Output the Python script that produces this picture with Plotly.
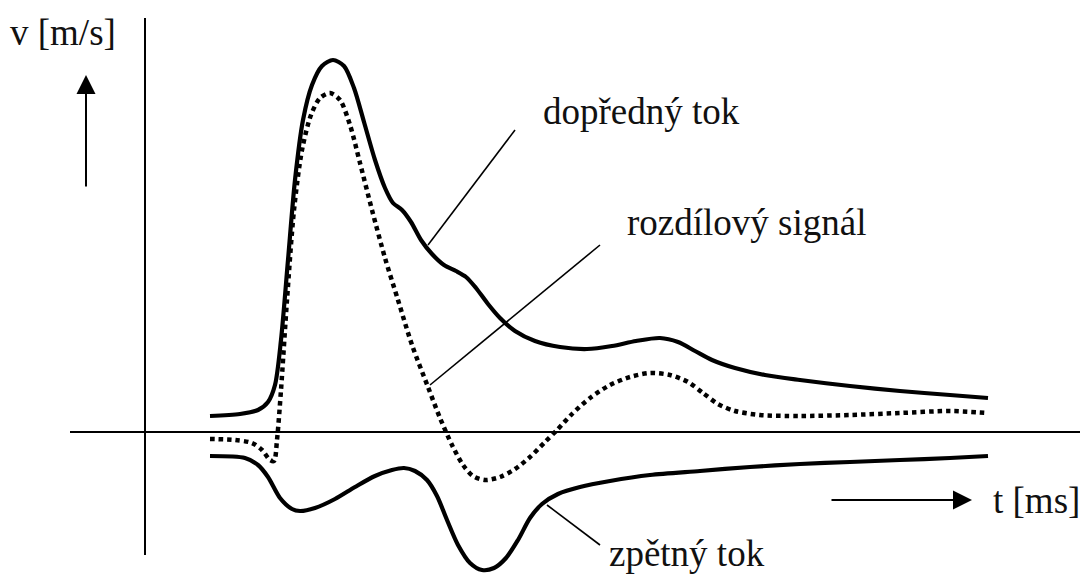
import plotly.graph_objects as go

# Forward flow (solid, upper curve)
t_forward = [65, 95, 113, 123, 130, 136, 143, 150, 158, 167, 177, 188, 199, 209, 219, 230,
             240, 248, 257, 266, 276, 287, 299, 311, 321, 331, 343, 355, 370, 390, 415, 442,
             467, 491, 515, 533, 550, 567, 590, 620, 655, 705, 755, 805, 843]
v_forward = [16, 18, 22, 30, 47, 92, 172, 252, 312, 347, 366, 372, 366, 344, 310, 272,
             244, 229, 222, 210, 192, 178, 167, 161, 155, 144, 128, 114, 101, 91, 85, 83,
             86, 91, 94, 90, 81, 72, 64, 57, 52, 46, 41, 37, 34]

# Difference signal (dotted)
t_diff = [65, 90, 107, 117, 125, 129, 132, 136, 142, 149, 157, 166, 175, 185, 195, 205,
          215, 227, 240, 253, 267, 283, 295, 307, 318, 328, 340, 355, 370, 385, 400, 412,
          427, 445, 465, 485, 505, 525, 543, 558, 573, 590, 615, 655, 705, 755, 805, 843]
v_diff = [-7, -8, -11, -18, -28, -29, -8, 42, 132, 222, 282, 317, 334, 339, 332, 307,
          269, 222, 174, 132, 87, 45, 14, -13, -33, -44, -48, -45, -37, -25, -10, 2,
          18, 34, 47, 55, 59, 57, 50, 39, 28, 21, 17, 16, 17, 19, 21, 19]

# Reverse flow (solid, lower curve)
t_reverse = [65, 100, 113, 123, 135, 147, 155, 170, 190, 210, 230, 247, 259, 270, 282, 292,
             302, 313, 325, 337, 349, 361, 373, 385, 397, 413, 435, 465, 505, 555, 605, 655,
             705, 755, 805, 843]
v_reverse = [-24, -26, -33, -45, -66, -77, -79, -76, -67, -55, -44, -38, -36, -39, -48, -64,
             -88, -113, -131, -138, -136, -126, -108, -86, -72, -62, -55, -49, -43, -39, -35, -32,
             -30, -28, -26, -24]

label_forward = "dopředný tok"
label_diff = "rozdílový signál"
label_reverse = "zpětný tok"
label_v = "v [m/s]"
label_t = "t [ms]"

FONT = dict(family="Liberation Serif", size=37, color="#111111")
INK = "#000000"

fig = go.Figure()

fig.add_trace(go.Scatter(x=t_forward, y=v_forward, mode="lines",
                         line=dict(color=INK, width=4.2, shape="spline", smoothing=0.8),
                         hoverinfo="skip", showlegend=False))
fig.add_trace(go.Scatter(x=t_diff, y=v_diff, mode="lines",
                         line=dict(color=INK, width=4.5, dash="4.5px,4px", shape="spline", smoothing=0.8),
                         hoverinfo="skip", showlegend=False))
fig.add_trace(go.Scatter(x=t_reverse, y=v_reverse, mode="lines",
                         line=dict(color=INK, width=4.2, shape="spline", smoothing=0.8),
                         hoverinfo="skip", showlegend=False))

# Coordinate axes drawn as plain lines
fig.add_shape(type="line", x0=0, x1=0, y0=414, y1=-123, xref="x", yref="y",
              line=dict(color=INK, width=2))
fig.add_shape(type="line", x0=-75, x1=935, y0=0, y1=0, xref="x", yref="y",
              line=dict(color=INK, width=2))

# Leader lines from the labels to the curves
fig.add_shape(type="line", x0=283, y0=187, x1=370, y1=302, xref="x", yref="y",
              line=dict(color=INK, width=1.6))
fig.add_shape(type="line", x0=285, y0=47, x1=455, y1=187, xref="x", yref="y",
              line=dict(color=INK, width=1.6))
fig.add_shape(type="line", x0=402, y0=-73, x1=455, y1=-113, xref="x", yref="y",
              line=dict(color=INK, width=1.6))

# Direction arrows for the axes
arrow = dict(xref="x", yref="y", axref="x", ayref="y", text="", showarrow=True,
             arrowhead=2, arrowsize=1.9, arrowwidth=2, arrowcolor=INK, standoff=0, startstandoff=0)
fig.add_annotation(x=-59, y=357, ax=-59, ay=244, **arrow)
fig.add_annotation(x=827, y=-68, ax=685, ay=-68, **arrow)

# Text labels
text = dict(xref="x", yref="y", showarrow=False, xanchor="left", yanchor="middle", font=FONT)
fig.add_annotation(x=-137, y=400, text=label_v, **text)
fig.add_annotation(x=846, y=-68, text=label_t, **text)
fig.add_annotation(x=396, y=321, text=label_forward, **text)
fig.add_annotation(x=480, y=210, text=label_diff, **text)
fig.add_annotation(x=462, y=-121, text=label_reverse, **text)

fig.update_layout(
    width=1087, height=575,
    margin=dict(l=0, r=0, t=0, b=0),
    paper_bgcolor="white", plot_bgcolor="white",
    xaxis=dict(range=[-145, 942], visible=False, fixedrange=True),
    yaxis=dict(range=[-143, 432], visible=False, fixedrange=True),
    showlegend=False,
)

fig.write_html("out.html", include_plotlyjs=True, config={"displayModeBar": False})
